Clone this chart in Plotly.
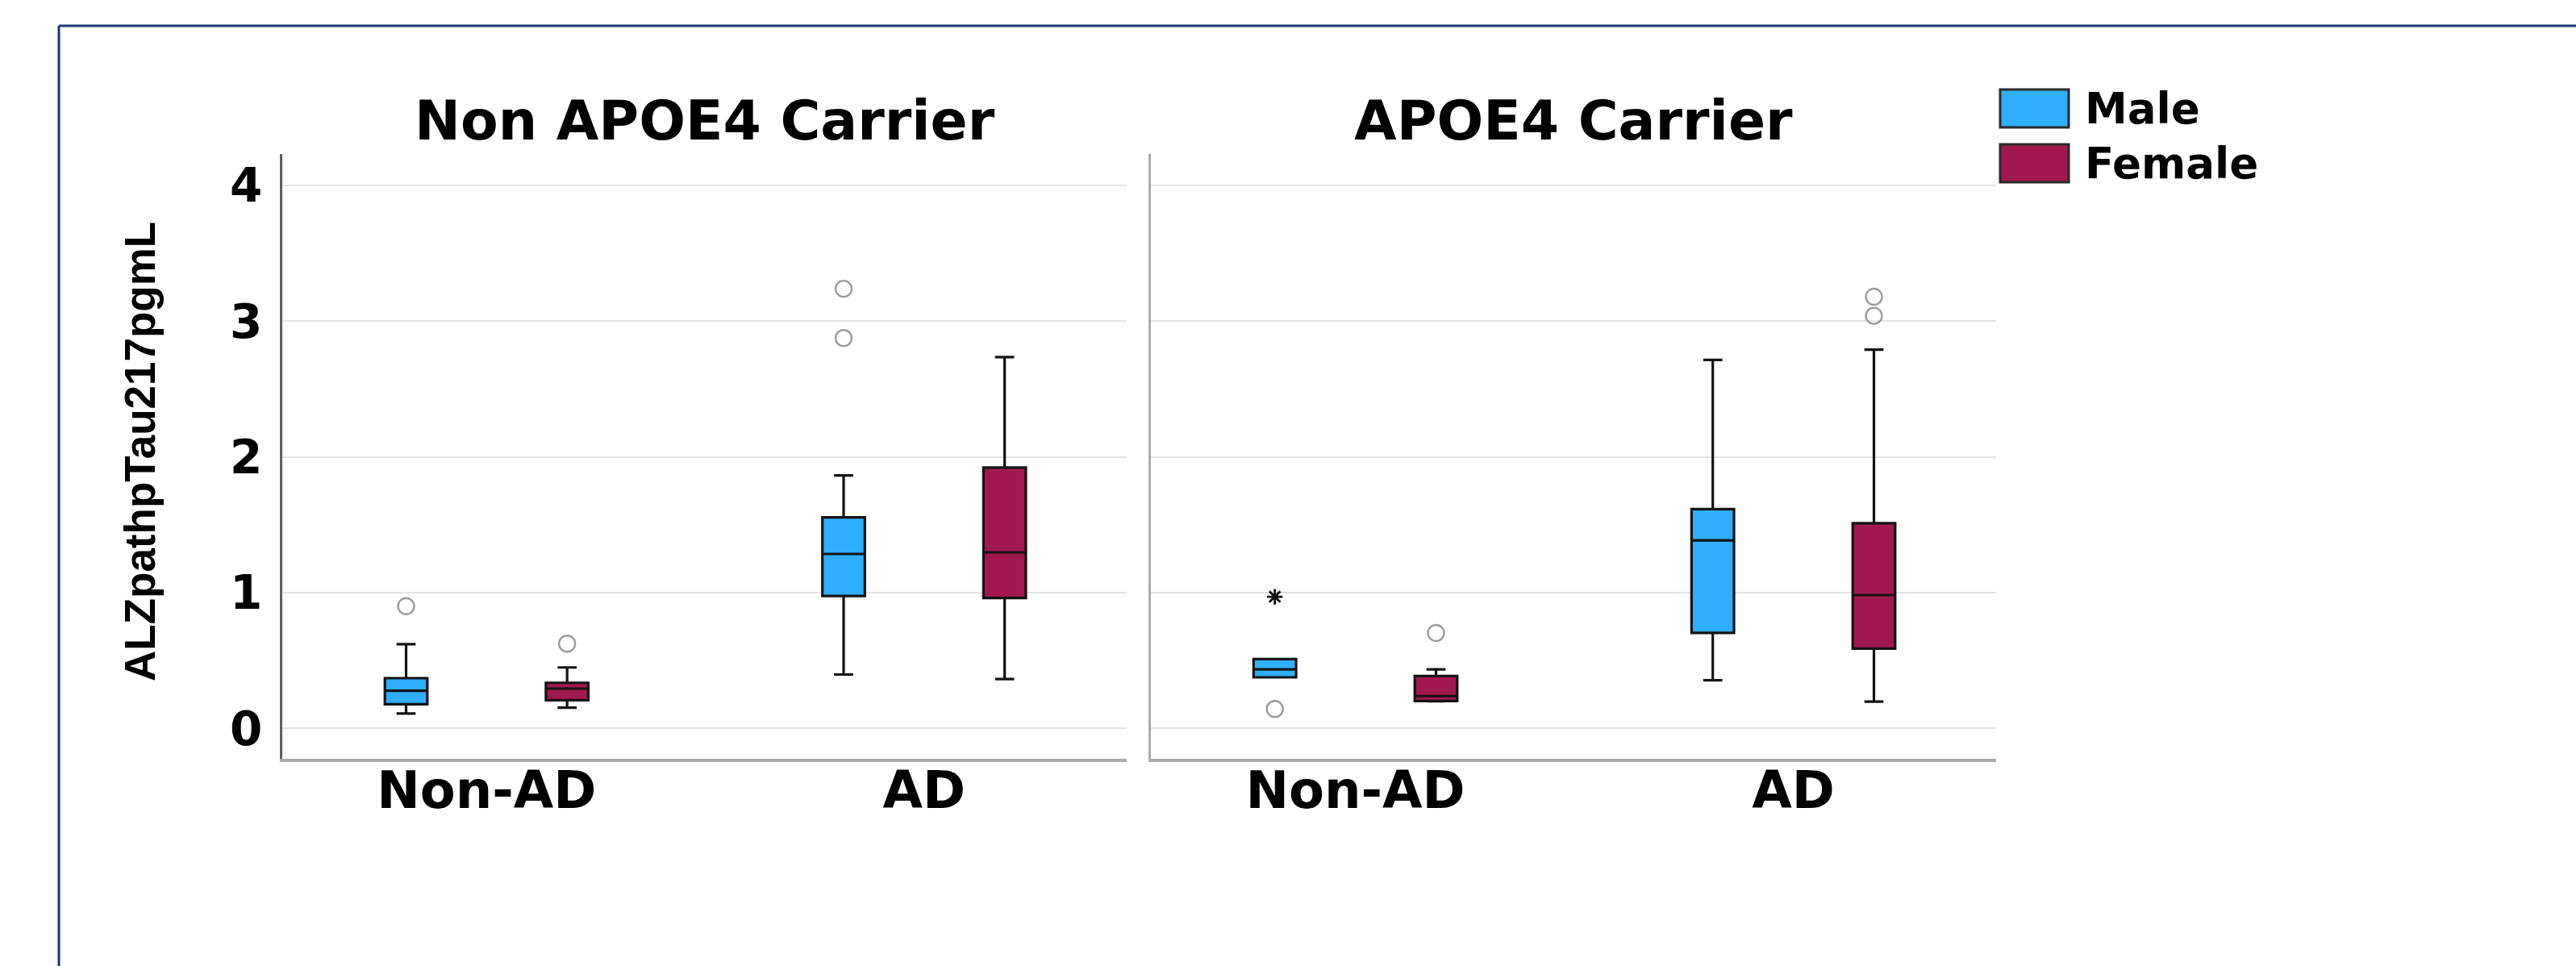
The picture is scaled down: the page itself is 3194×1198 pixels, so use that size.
import plotly.graph_objects as go

# ---------------- data ----------------
categories = ["Non-AD", "AD"]
panel_titles = ["Non APOE4 Carrier", "APOE4 Carrier"]
sexes = ["Male", "Female"]
y_title = "ALZpathpTau217pgmL"
y_ticks = [0, 1, 2, 3, 4]

# Non APOE4 Carrier  ([Non-AD, AD])
non_male_lf = [0.11, 0.397]
non_male_q1 = [0.178, 0.976]
non_male_med = [0.277, 1.285]
non_male_q3 = [0.37, 1.555]
non_male_uf = [0.62, 1.864]
non_male_out_cat = [0, 1, 1]
non_male_out_val = [0.90, 2.876, 3.239]

non_fem_lf = [0.152, 0.364]
non_fem_q1 = [0.208, 0.961]
non_fem_med = [0.293, 1.297]
non_fem_q3 = [0.336, 1.921]
non_fem_uf = [0.449, 2.736]
non_fem_out_cat = [0]
non_fem_out_val = [0.624]

# APOE4 Carrier  ([Non-AD, AD])
apoe_male_lf = [0.376, 0.355]
apoe_male_q1 = [0.376, 0.703]
apoe_male_med = [0.435, 1.385]
apoe_male_q3 = [0.511, 1.615]
apoe_male_uf = [0.511, 2.715]
apoe_male_out_cat = [0]
apoe_male_out_val = [0.143]
apoe_male_ext_cat = [0]
apoe_male_ext_val = [0.97]

apoe_fem_lf = [0.20, 0.197]
apoe_fem_q1 = [0.202, 0.588]
apoe_fem_med = [0.238, 0.982]
apoe_fem_q3 = [0.386, 1.512]
apoe_fem_uf = [0.435, 2.791]
apoe_fem_out_cat = [0, 1, 1]
apoe_fem_out_val = [0.703, 3.04, 3.18]

# ---------------- styling ----------------
W, H = 3194, 1198
colors = {"Male": "#2FAEFD", "Female": "#A1184E"}
offsets = {"Male": -0.184, "Female": 0.184}
box_w = 0.097
FONT = "DejaVu Sans"

panels = [
    {
        "Male": (non_male_lf, non_male_q1, non_male_med, non_male_q3, non_male_uf,
                 non_male_out_cat, non_male_out_val, [], []),
        "Female": (non_fem_lf, non_fem_q1, non_fem_med, non_fem_q3, non_fem_uf,
                   non_fem_out_cat, non_fem_out_val, [], []),
    },
    {
        "Male": (apoe_male_lf, apoe_male_q1, apoe_male_med, apoe_male_q3, apoe_male_uf,
                 apoe_male_out_cat, apoe_male_out_val, apoe_male_ext_cat, apoe_male_ext_val),
        "Female": (apoe_fem_lf, apoe_fem_q1, apoe_fem_med, apoe_fem_q3, apoe_fem_uf,
                   apoe_fem_out_cat, apoe_fem_out_val, [], []),
    },
]

fig = go.Figure()
cat_pos = list(range(len(categories)))

for p, panel in enumerate(panels):
    xa = "x" if p == 0 else "x2"
    ya = "y" if p == 0 else "y2"
    for sex in sexes:
        lf, q1, med, q3, uf, oc, ov, ec, ev = panel[sex]
        xs = [c + offsets[sex] for c in cat_pos]
        fig.add_trace(go.Box(
            x=xs, q1=q1, median=med, q3=q3, lowerfence=lf, upperfence=uf,
            width=box_w, whiskerwidth=0.45,
            fillcolor=colors[sex], line=dict(color="#141414", width=3.2),
            boxpoints=False, name=sex, showlegend=False,
            xaxis=xa, yaxis=ya,
        ))
        if ov:
            fig.add_trace(go.Scatter(
                x=[c + offsets[sex] for c in oc], y=ov, mode="markers",
                marker=dict(symbol="circle-open", size=20, color="#9c9c9c",
                            line=dict(width=2.4, color="#9c9c9c")),
                showlegend=False, xaxis=xa, yaxis=ya, hoverinfo="y",
            ))
        if ev:
            fig.add_trace(go.Scatter(
                x=[c + offsets[sex] for c in ec], y=ev, mode="markers",
                marker=dict(symbol="asterisk-open", size=16, color="#111111",
                            line=dict(width=2.8, color="#111111")),
                showlegend=False, xaxis=xa, yaxis=ya, hoverinfo="y",
            ))

def px_x(v):
    return v / W

def px_y(v):
    return 1 - v / H

xdom1 = [px_x(350), px_x(1397)]
xdom2 = [px_x(1427), px_x(2475)]
ydom = [px_y(941), px_y(191)]
xrange_ = [-0.467, 1.463]
yrange_ = [-0.224, 4.232]

tickfont = dict(family=FONT, size=64, color="black", weight="bold")
common_x = dict(range=xrange_, tickvals=cat_pos, ticktext=categories,
                showgrid=False, zeroline=False, showline=True,
                linecolor="#ababab", linewidth=4, ticks="",
                tickfont=tickfont, ticklabelstandoff=-20, fixedrange=True)
common_y = dict(range=yrange_, tickvals=y_ticks, showgrid=True,
                gridcolor="#e3e3e3", gridwidth=2, zeroline=False,
                showline=True, linewidth=3, ticks="", fixedrange=True)

fig.update_layout(
    width=W, height=H,
    margin=dict(l=0, r=0, t=0, b=0),
    paper_bgcolor="white", plot_bgcolor="white",
    xaxis=dict(domain=xdom1, anchor="y", **common_x),
    xaxis2=dict(domain=xdom2, anchor="y2", **common_x),
    yaxis=dict(domain=ydom, anchor="x", linecolor="#5e5e5e",
               tickfont=dict(family=FONT, size=58, color="black", weight="bold"),
               ticklabelstandoff=10, **common_y),
    yaxis2=dict(domain=ydom, anchor="x2", linecolor="#ababab",
                showticklabels=False, **common_y),
    showlegend=False,
)

annotations = []
for p, dom in enumerate([xdom1, xdom2]):
    annotations.append(dict(
        text=panel_titles[p], xref="paper", yref="paper",
        x=(dom[0] + dom[1]) / 2, y=px_y(150), xanchor="center", yanchor="middle",
        showarrow=False, font=dict(family=FONT, size=68, color="black", weight="bold"),
    ))

annotations.append(dict(
    text=y_title, xref="paper", yref="paper", x=px_x(173), y=px_y(560),
    xanchor="center", yanchor="middle", textangle=-90, showarrow=False,
    font=dict(family="Liberation Sans", size=53, color="black", weight="bold"),
))

# legend (custom swatches + labels)
shapes = []
leg_rows = [(111, 158), (179, 226)]
for sex, (t, b) in zip(sexes, leg_rows):
    shapes.append(dict(type="rect", xref="paper", yref="paper",
                       x0=px_x(2480), x1=px_x(2565), y0=px_y(b), y1=px_y(t),
                       fillcolor=colors[sex], line=dict(color="#2a2a2a", width=3)))
    annotations.append(dict(
        text=sex, xref="paper", yref="paper", x=px_x(2583), y=px_y((t + b) / 2),
        xanchor="left", yanchor="middle", showarrow=False,
        font=dict(family=FONT, size=53, color="black", weight="bold"),
    ))

# outer frame lines
frame = "#1b3673"
shapes.append(dict(type="line", xref="paper", yref="paper",
                   x0=px_x(73), x1=1, y0=px_y(32), y1=px_y(32),
                   line=dict(color=frame, width=3)))
shapes.append(dict(type="line", xref="paper", yref="paper",
                   x0=px_x(73), x1=px_x(73), y0=0, y1=px_y(32),
                   line=dict(color=frame, width=3)))

fig.update_layout(annotations=annotations, shapes=shapes)

fig.write_html("out.html", config={"displayModeBar": False},
               post_script="document.body.style.margin='0';")
